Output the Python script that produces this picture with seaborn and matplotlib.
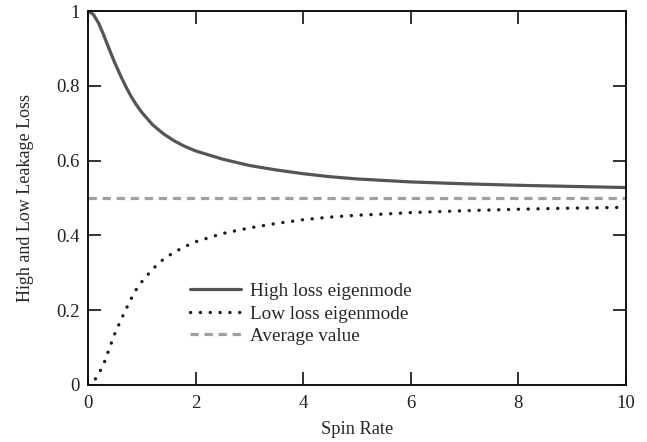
import numpy as np
import pandas as pd
import seaborn as sns
import matplotlib
matplotlib.use("Agg")
import matplotlib.pyplot as plt
from matplotlib.ticker import FuncFormatter

spin_rate = [0, 0.1, 0.2, 0.3, 0.4, 0.5, 0.6, 0.7, 0.8, 0.9, 1.0, 1.2, 1.4, 1.6,
             1.8, 2.0, 2.5, 3.0, 3.5, 4.0, 4.5, 5.0, 5.5, 6.0, 7.0, 8.0, 9.0, 10.0]
high_loss = [1.000, 0.991, 0.967, 0.933, 0.896, 0.861, 0.829, 0.799, 0.772, 0.749,
             0.729, 0.696, 0.672, 0.653, 0.638, 0.626, 0.604, 0.587, 0.575, 0.565,
             0.557, 0.551, 0.547, 0.543, 0.538, 0.534, 0.531, 0.528]
low_loss = [0.000, 0.008, 0.030, 0.059, 0.099, 0.138, 0.170, 0.201, 0.230, 0.256,
            0.276, 0.310, 0.336, 0.355, 0.370, 0.383, 0.405, 0.420, 0.432, 0.442,
            0.449, 0.454, 0.457, 0.461, 0.466, 0.470, 0.473, 0.475]
average = [0.5] * len(spin_rate)

labels = ["High loss eigenmode", "Low loss eigenmode", "Average value"]
x_ticks = [0, 2, 4, 6, 8, 10]
y_ticks = [0, 0.2, 0.4, 0.6, 0.8, 1.0]

df = pd.DataFrame({"x": spin_rate, "high": high_loss, "low": low_loss, "avg": average})

sns.set_style("white")
plt.rcParams["font.family"] = ["Liberation Serif", "DejaVu Serif"]

fig = plt.figure(figsize=(6.47, 4.42), dpi=100)
ax = fig.add_axes([0.136, 0.129, 0.8315, 0.846])

sns.lineplot(data=df, x="x", y="high", ax=ax, color="#555555", lw=2.3,
             label=labels[0])
sns.lineplot(data=df, x="x", y="low", ax=ax, color="#1a1a1a", lw=2.4,
             label=labels[1], linestyle=(0, (0.05, 2.9)), dash_capstyle="round")
sns.lineplot(data=df, x="x", y="avg", ax=ax, color="#a0a0a0", lw=2.3,
             label=labels[2], linestyle=(0, (2.6, 1.8)))

ax.set_xlim(0, 10)
ax.set_ylim(0, 1)
ax.set_xticks(x_ticks)
ax.set_yticks(y_ticks)
fmt = FuncFormatter(lambda v, p: f"{v:g}")
ax.xaxis.set_major_formatter(fmt)
ax.yaxis.set_major_formatter(fmt)
ax.tick_params(direction="in", length=9.5, width=1.3, top=True, right=True,
               bottom=True, left=True, labelsize=13.5, colors="#222222", pad=6)
ax.tick_params(axis="x", pad=7)
for s in ax.spines.values():
    s.set_linewidth(1.4)
    s.set_color("#111111")
    s.set_visible(True)

ax.set_xlabel("Spin Rate", fontsize=13.2, labelpad=7)
ax.set_ylabel("High and Low Leakage Loss", fontsize=13, labelpad=16)

leg = ax.legend(loc="upper left", bbox_to_anchor=(0.158, 0.32), frameon=False,
                fontsize=13.8, handlelength=2.65, handletextpad=0.45, labelspacing=0.27)

fig.savefig("out.png", dpi=100)
